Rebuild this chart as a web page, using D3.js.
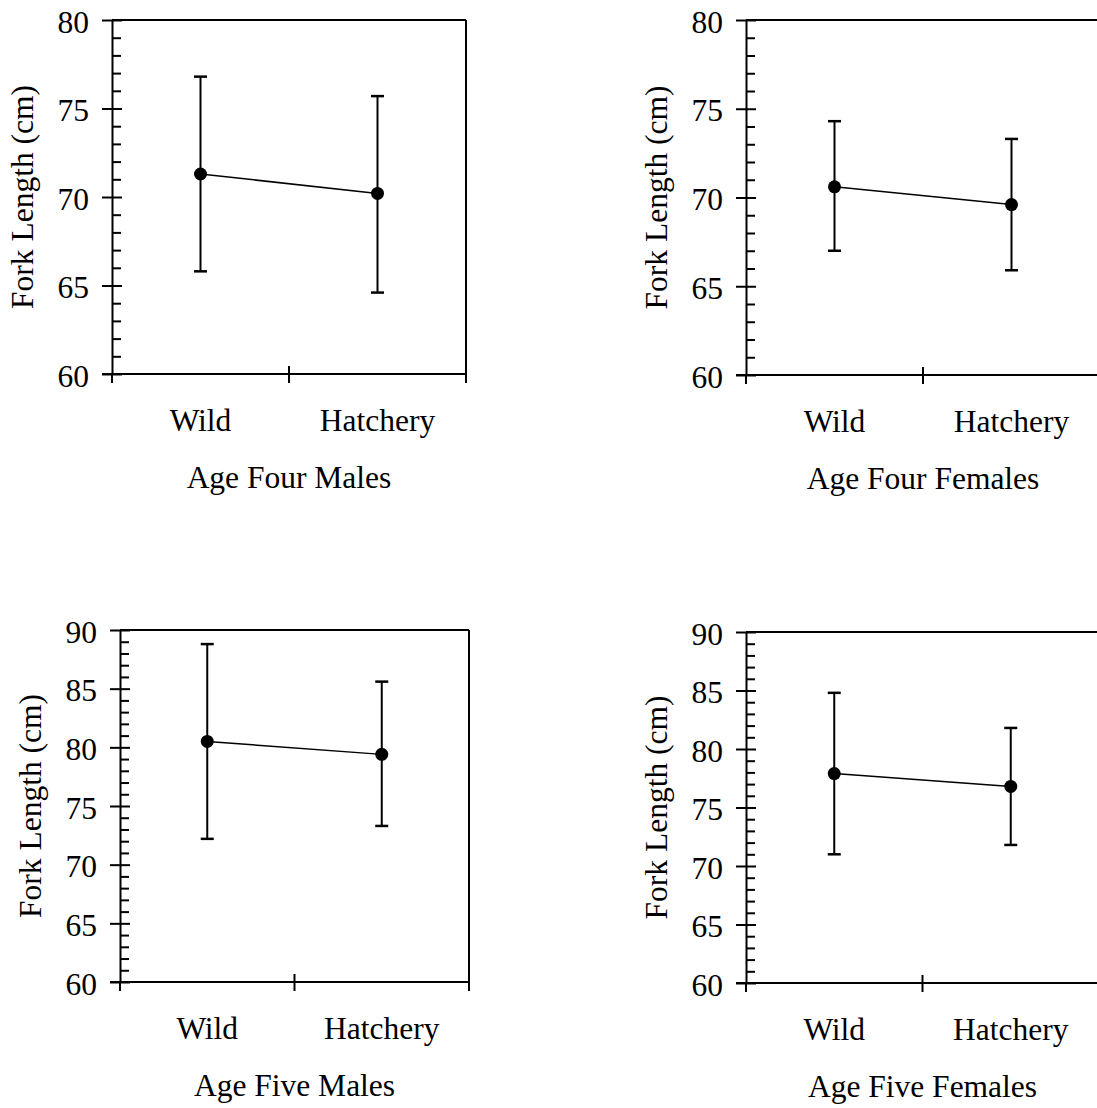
<!DOCTYPE html>
<html>
<head>
<meta charset="utf-8">
<script src="https://cdn.jsdelivr.net/npm/d3@7/dist/d3.min.js"></script>
<style>
  html, body { margin: 0; padding: 0; background: #fff; overflow: hidden; }
  svg { display: block; }
  text { font-family: "Liberation Serif", "Times New Roman", serif; fill: #000; }
</style>
</head>
<body>
<svg id="chart" width="1097" height="1108"></svg>
<script>
// ---- data ----
const categories = ["Wild", "Hatchery"];
const panelTitles = ["Age Four Males", "Age Four Females", "Age Five Males", "Age Five Females"];
const yAxisTitle = "Fork Length (cm)";
const meanValues  = [[71.3, 70.2], [70.6, 69.6], [80.5, 79.4], [77.9, 76.8]];
const upperValues = [[76.8, 75.7], [74.3, 73.3], [88.8, 85.6], [84.8, 81.8]];
const lowerValues = [[65.8, 64.6], [67.0, 65.9], [72.2, 73.3], [71.0, 71.8]];
const yDomains = [[60, 80], [60, 80], [60, 90], [60, 90]];
const majorTickValues = [
  [60, 65, 70, 75, 80],
  [60, 65, 70, 75, 80],
  [60, 65, 70, 75, 80, 85, 90],
  [60, 65, 70, 75, 80, 85, 90]
];

// ---- layout (pixel geometry only) ----
const layout = [
  { left: 112, right: 466, top: 20, bottom: 374 },
  { left: 746, right: 1100, top: 20, bottom: 375 },
  { left: 120, right: 469, top: 630, bottom: 982 },
  { left: 746, right: 1099, top: 632, bottom: 983 }
];
const FONT = 31.5;

const svg = d3.select("#chart");

layout.forEach((L, i) => {
  const g = svg.append("g");
  const y = d3.scaleLinear().domain(yDomains[i]).range([L.bottom, L.top]);
  const x = d3.scaleBand().domain(categories).range([L.left, L.right]).paddingInner(0).paddingOuter(0);
  const cx = c => x(c) + x.bandwidth() / 2;

  // frame: top and right border
  g.append("line").attr("x1", L.left).attr("x2", L.right).attr("y1", L.top).attr("y2", L.top)
    .attr("stroke", "#000").attr("stroke-width", 2);
  g.append("line").attr("x1", L.right).attr("x2", L.right).attr("y1", L.top).attr("y2", L.bottom)
    .attr("stroke", "#000").attr("stroke-width", 2);

  // minor ticks (inside)
  const [d0, d1] = yDomains[i];
  const minorTicks = d3.range(d0, d1 + 1).filter(v => !majorTickValues[i].includes(v));
  const minorAxis = d3.axisRight(y).tickValues(minorTicks).tickSize(9).tickFormat("");
  const mg = g.append("g").attr("transform", `translate(${L.left},0)`).call(minorAxis);
  mg.select(".domain").remove();
  mg.selectAll("line").attr("stroke", "#000").attr("stroke-width", 2);

  // major ticks (crossing) + labels
  const majorAxis = d3.axisLeft(y).tickValues(majorTickValues[i]).tickSizeInner(10).tickSizeOuter(0).tickPadding(13);
  const ag = g.append("g").attr("transform", `translate(${L.left},0)`).call(majorAxis);
  ag.attr("font-family", null).attr("font-size", null);
  ag.select(".domain").attr("stroke", "#000").attr("stroke-width", 2);
  ag.selectAll(".tick line").attr("x1", 10).attr("x2", -10).attr("stroke", "#000").attr("stroke-width", 2);
  ag.selectAll(".tick text")
    .attr("font-size", FONT).attr("dy", 12).attr("x", -23);

  // x axis line
  g.append("line").attr("x1", L.left - 10).attr("x2", L.right).attr("y1", L.bottom).attr("y2", L.bottom)
    .attr("stroke", "#000").attr("stroke-width", 2);
  // x boundary ticks
  const bounds = categories.map(c => x(c)).concat([x.range()[1]]);
  g.selectAll(".xb").data(bounds).enter().append("line")
    .attr("x1", d => d).attr("x2", d => d)
    .attr("y1", (d, k) => (k === 1 ? L.bottom - 8 : L.bottom))
    .attr("y2", L.bottom + 9)
    .attr("stroke", "#000").attr("stroke-width", 2);

  // x category labels
  const xAxis = d3.axisBottom(x).tickSize(0).tickPadding(0);
  const xg = g.append("g").attr("transform", `translate(0,${L.bottom})`).call(xAxis);
  xg.attr("font-family", null).attr("font-size", null);
  xg.select(".domain").remove();
  xg.selectAll(".tick text").attr("font-size", FONT).attr("y", 57).attr("dy", 0);

  // panel title
  g.append("text").attr("x", (L.left + L.right) / 2).attr("y", L.bottom + 114)
    .attr("text-anchor", "middle").attr("font-size", FONT).text(panelTitles[i]);

  // y axis title
  g.append("text")
    .attr("transform", `translate(${L.left - 79},${(L.top + L.bottom) / 2}) rotate(-90)`)
    .attr("text-anchor", "middle").attr("font-size", FONT).text(yAxisTitle);

  // error bars
  const pts = categories.map((c, k) => ({ c, m: meanValues[i][k], hi: upperValues[i][k], lo: lowerValues[i][k] }));
  g.selectAll(".eb").data(pts).enter().append("line")
    .attr("x1", d => cx(d.c)).attr("x2", d => cx(d.c))
    .attr("y1", d => y(d.hi)).attr("y2", d => y(d.lo))
    .attr("stroke", "#000").attr("stroke-width", 2);
  ["hi", "lo"].forEach(key => {
    g.selectAll(".cap-" + key).data(pts).enter().append("line")
      .attr("x1", d => cx(d.c) - 6.5).attr("x2", d => cx(d.c) + 6.5)
      .attr("y1", d => y(d[key])).attr("y2", d => y(d[key]))
      .attr("stroke", "#000").attr("stroke-width", 2.5);
  });

  // connecting line
  const line = d3.line().x(d => cx(d.c)).y(d => y(d.m));
  g.append("path").datum(pts).attr("d", line).attr("fill", "none")
    .attr("stroke", "#000").attr("stroke-width", 1.5);

  // markers
  g.selectAll(".pt").data(pts).enter().append("circle")
    .attr("cx", d => cx(d.c)).attr("cy", d => y(d.m)).attr("r", 6.5).attr("fill", "#000");
});
</script>
</body>
</html>
